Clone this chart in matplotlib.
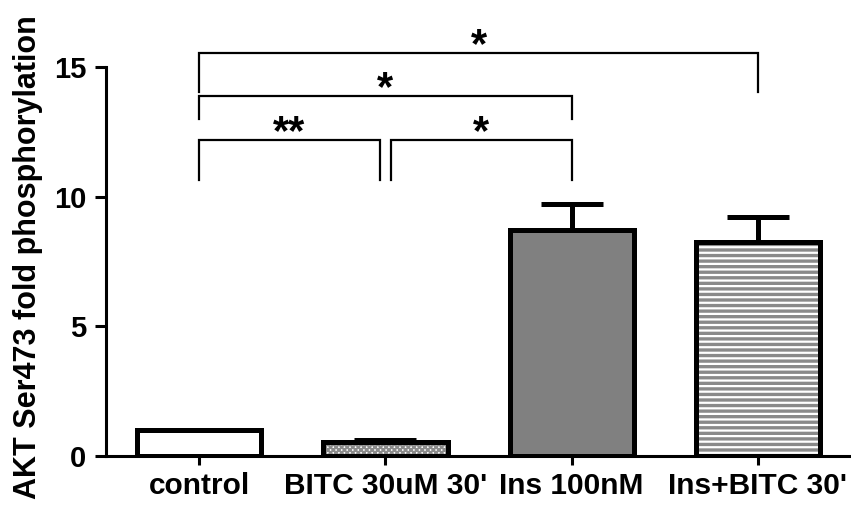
import numpy as np
import matplotlib
matplotlib.use("Agg")
import matplotlib.pyplot as plt

# Veriler
groups = ["control", "BITC 30uM 30'", "Ins 100nM", "Ins+BITC 30'"]
means = [1.0, 0.54, 8.72, 8.25]
errs = [0.0, 0.06, 1.0, 0.97]

# anlamlilik cizgileri: (sol, sag, yukseklik, sol bacak ucu, sag bacak ucu, etiket)
sig_pairs = [
    (0, 0.97, 12.19, 10.64, 10.64, "**"),
    (1.03, 2.0, 12.19, 10.64, 10.64, "*"),
    (0, 2.0, 13.88, 13.0, 13.0, "*"),
    (0, 3.0, 15.54, 14.04, 14.04, "*"),
]

plt.rcParams['font.family'] = ['Liberation Sans', 'DejaVu Sans']
plt.rcParams['font.weight'] = 'bold'
plt.rcParams['hatch.linewidth'] = 1.6

fig = plt.figure(figsize=(8.51, 5.11), dpi=100)
ax = fig.add_axes([0.1246, 0.1076, 0.8754, 0.7613])

x = np.arange(len(groups))
w = 0.667
lw = 3.6

faces = ['white', 'white', '#808080', '#8a8a8a']
hatches = [None, 'xxxxxx', None, '---']
hcols = [None, '#8c8c8c', None, 'white']

for i in range(len(groups)):
    if hatches[i]:
        ax.bar(x[i], means[i], w, color=faces[i], edgecolor=hcols[i],
               hatch=hatches[i], linewidth=0, zorder=2)
        ax.bar(x[i], means[i], w, facecolor='none', edgecolor='black',
               linewidth=lw, zorder=3)
    else:
        ax.bar(x[i], means[i], w, color=faces[i], edgecolor='black',
               linewidth=lw, zorder=3)

# sadece yukari hata cubugu
ax.errorbar(x, means, yerr=[np.zeros(len(errs)), errs], fmt='none',
            ecolor='black', elinewidth=lw, capsize=22, capthick=lw, zorder=1)

for a, b, h, la, lb, lab in sig_pairs:
    ax.plot([a, a, b, b], [la, h, h, lb], color='black', lw=1.6,
            clip_on=False, solid_joinstyle='miter')
    ax.text((a + b) / 2, h + 0.25, lab, ha='center', va='center',
            fontsize=30, fontweight='bold', clip_on=False)

ax.set_xlim(-0.5, 3.5)
ax.set_ylim(0, 15)
ax.set_yticks([0, 5, 10, 15])
ax.set_xticks(x)
ax.set_xticklabels(groups)

for s in ['top', 'right']:
    ax.spines[s].set_visible(False)
for s in ['left', 'bottom']:
    ax.spines[s].set_linewidth(2.2)

ax.tick_params(axis='y', length=8, width=2.2, pad=6, labelsize=21)
ax.tick_params(axis='x', length=6.5, width=2.2, pad=5, labelsize=21.5)

ax.set_ylabel('AKT Ser473 fold phosphorylation', fontsize=22, fontweight='bold')
ax.yaxis.set_label_coords(-0.084, 0.51)

plt.savefig('out.png', dpi=100)
